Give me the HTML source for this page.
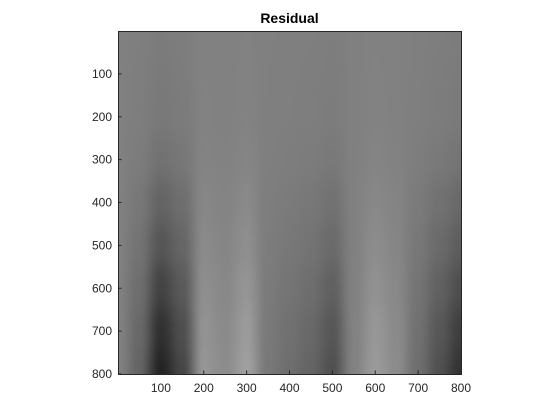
<!DOCTYPE html>
<html><head><meta charset="utf-8"><style>
body{margin:0;background:#fff;width:560px;height:420px;overflow:hidden;font-family:"Liberation Sans",sans-serif}
</style></head><body>
<svg width="560" height="420" style="position:absolute;left:0;top:0">
<text x="289.5" y="23" text-anchor="middle" font-size="14" font-weight="bold" fill="#000">Residual</text>
<foreignObject x="118" y="31" width="343" height="343"><canvas id="cv" width="343" height="343" xmlns="http://www.w3.org/1999/xhtml"></canvas></foreignObject>
<rect x="118.5" y="31.5" width="343" height="343" fill="none" stroke="#262626" stroke-width="1"/>
<g id="ticks" font-size="12" fill="#262626"></g>
</svg>
<script>
// column deviation at bottom row (gray level), sampled at x positions
const colX=[0,50,100,150,200,250,300,350,400,450,500,550,600,650,700,750,800];
const colGray=[130,100,35,70,150,140,160,120,110,100,80,130,155,140,110,80,50];
// vertical envelope (fraction of full deviation)
const rowY=[0,200,300,400,500,600,700,800];
const rowEnv=[0.05,0.08,0.15,0.3,0.45,0.65,0.85,1.0];
const baseGray=128;
const xTicks=[100,200,300,400,500,600,700,800];
const yTicks=[100,200,300,400,500,600,700,800];
const X0=118,Y0=31,S=343,XMAX=800;
function interp(xs,ys,v){for(let i=0;i<xs.length-1;i++){if(v<=xs[i+1]){const t=(v-xs[i])/(xs[i+1]-xs[i]);const s=t*t*(3-2*t);return ys[i]+(ys[i+1]-ys[i])*s;}}return ys[ys.length-1];}
const cv=document.getElementById('cv'),ctx=cv.getContext('2d');
const img=ctx.createImageData(S,S);
for(let py=0;py<S;py++){const dy=(py+0.5)/S*XMAX;const e=interp(rowY,rowEnv,dy);
for(let px=0;px<S;px++){const dx=(px+0.5)/S*XMAX;const g=Math.round(baseGray+(interp(colX,colGray,dx)-baseGray)*e);
const k=(py*S+px)*4;img.data[k]=img.data[k+1]=img.data[k+2]=g;img.data[k+3]=255;}}
ctx.putImageData(img,0,0);
const NS='http://www.w3.org/2000/svg',tg=document.getElementById('ticks');
function xs(v){return X0+v/XMAX*S;}function ys(v){return Y0+v/XMAX*S;}
xTicks.forEach(v=>{const l=document.createElementNS(NS,'line');


l.setAttribute('x1',xs(v));l.setAttribute('x2',xs(v));l.setAttribute('y1',374);l.setAttribute('y2',370.5);l.setAttribute('stroke','#262626');tg.appendChild(l);
const t=document.createElementNS(NS,'text');


t.setAttribute('x',xs(v));t.setAttribute('y',392);t.setAttribute('text-anchor','middle');t.textContent=v;tg.appendChild(t);});
yTicks.forEach(v=>{const l=document.createElementNS(NS,'line');


l.setAttribute('x1',118);l.setAttribute('x2',121.5);l.setAttribute('y1',ys(v));l.setAttribute('y2',ys(v));l.setAttribute('stroke','#262626');tg.appendChild(l);
const t=document.createElementNS(NS,'text');


t.setAttribute('x',112);t.setAttribute('y',ys(v)+4);t.setAttribute('text-anchor','end');t.textContent=v;tg.appendChild(t);});
</script>
</body></html>
